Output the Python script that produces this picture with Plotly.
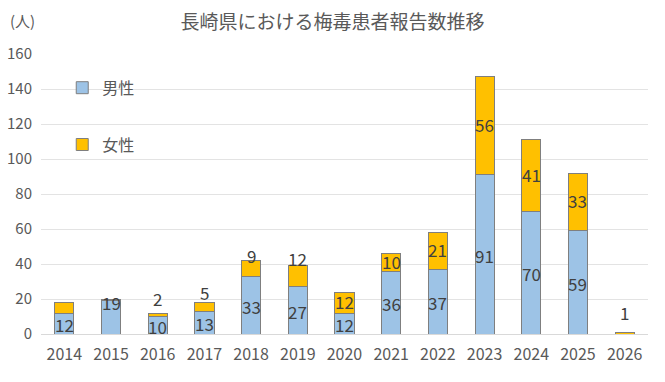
import plotly.graph_objects as go

years = ["2014", "2015", "2016", "2017", "2018", "2019", "2020", "2021", "2022", "2023", "2024", "2025", "2026"]
male = [12, 19, 10, 13, 33, 27, 12, 36, 37, 91, 70, 59, 0]
female = [6, 1, 2, 5, 9, 12, 12, 10, 21, 56, 41, 33, 1]
male_labels = ["12", "19", "10", "13", "33", "27", "12", "36", "37", "91", "70", "59", ""]
female_labels = ["", "", "2", "5", "9", "12", "12", "10", "21", "56", "41", "33", "1"]

# label placement style: 'in' = centred in segment, number = pixels above stack top
male_place = ["in", -3, "in", "in", "in", "in", "in", "in", "in", "in", "in", "in", "in"]
female_place = ["in", "in", 15, 10, 5, 7, "in", "in", "in", "in", "in", "in", 20]

FONT = "Noto Sans CJK JP"
TXT = "#595959"
LBL = "#404040"

fig = go.Figure()
fig.add_trace(go.Bar(x=years, y=male, name="男性", legendgroup="m",
                     marker=dict(color="#9DC3E6", line=dict(color="#7F7F7F", width=1))))
fig.add_trace(go.Bar(x=years, y=female, name="女性", legendgroup="f",
                     marker=dict(color="#FFC000", line=dict(color="#7F7F7F", width=1))))

annotations = []
for i, yr in enumerate(years):
    m, f = male[i], female[i]
    for k, (val_label, place, base, h) in enumerate(((male_labels[i], male_place[i], 0, m),
                                                     (female_labels[i], female_place[i], m, f))):
        if not val_label:
            continue
        if place == "in":
            annotations.append(dict(x=i, y=base + h / 2, text=val_label, showarrow=False,
                                    font=dict(family=FONT, size=17, color=LBL), yanchor="middle",
                                    borderpad=0, yshift=(1 if k else -1)))
        else:
            annotations.append(dict(x=i, y=m + f, text=val_label, showarrow=False,
                                    font=dict(family=FONT, size=17, color=LBL), borderpad=0,
                                    yanchor="middle", yshift=place))

annotations.append(dict(xref="paper", yref="paper", x=-0.055, y=1.12, text="(人)",
                        showarrow=False, font=dict(family=FONT, size=15, color=TXT),
                        xanchor="left", yanchor="middle"))

fig.update_layout(
    width=665, height=382,
    margin=dict(l=41, r=17, t=54, b=48, autoexpand=False),
    paper_bgcolor="white", plot_bgcolor="white",
    barmode="stack", bargap=0.59,
    title=dict(text="長崎県における梅毒患者報告数推移", x=0.5, xref="container", xanchor="center",
               y=1 - 22 / 382, yref="container", yanchor="middle",
               font=dict(family=FONT, size=19, color=TXT)),
    font=dict(family=FONT, color=TXT),
    legend=dict(x=0.035, y=0.94, xanchor="left", yanchor="top", traceorder="grouped",
                tracegroupgap=33, font=dict(family=FONT, size=16, color=TXT),
                bgcolor="rgba(0,0,0,0)"),
    annotations=annotations,
)
fig.update_xaxes(type="category", range=[-0.5, len(years) - 0.5], showgrid=False, showline=True,
                 linecolor="#D9D9D9", linewidth=1,
                 tickfont=dict(family=FONT, size=16, color=TXT), ticks="",
                 ticklabelstandoff=6, automargin=False)
fig.update_yaxes(range=[0, 160], dtick=20, showgrid=True, gridcolor="#E3E3E3", gridwidth=1,
                 zeroline=False, showline=False, automargin=False,
                 tickfont=dict(family=FONT, size=15, color=TXT), ticklabelstandoff=8)

fig.write_html("out.html", config={"displayModeBar": False},
               post_script="document.body.style.margin='0';")
